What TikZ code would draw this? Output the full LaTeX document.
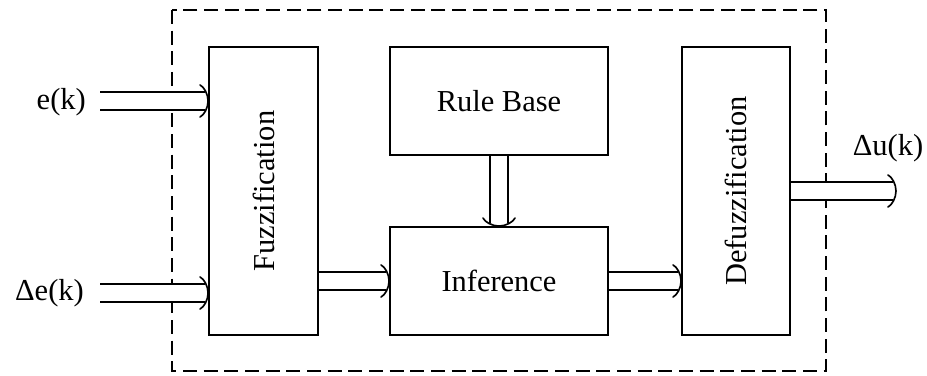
\documentclass[tikz,border=0pt]{standalone}
\usepackage{fontspec}
\setmainfont{Liberation Serif}
\begin{document}
\begin{tikzpicture}[x=0.03cm,y=-0.03cm,
  blk/.style={draw,line width=1.6pt,inner sep=0pt},
  lbl/.style={font=\fontsize{26}{30}\selectfont,inner sep=0pt},
  flow/.style={draw,line width=1.3pt,double distance=0.5cm,shorten >=0.09cm},
  frame/.style={draw,line width=1.6pt,dash pattern=on 0.42cm off 0.2cm},
  head/.pic={\draw[line width=1.4pt,line cap=round]
     (-8,-16) .. controls (-4,-14) and (0,-7) .. (0,0)
              .. controls (0,7) and (-4,14) .. (-8,16);}]
\useasboundingbox (0,0) rectangle (927,376);
% dashed controller boundary
\draw[frame] (172,10) rectangle (826,371);
% blocks
\node[blk,minimum width=109*0.03cm,minimum height=288*0.03cm] (fz) at (263.5,191) {};
\node[lbl,rotate=90] at (fz.center) {Fuzzification};
\node[blk,minimum width=218*0.03cm,minimum height=108*0.03cm] (rb) at (499,101) {};
\node[lbl] at (rb.center) {Rule Base};
\node[blk,minimum width=218*0.03cm,minimum height=108*0.03cm] (inf) at (499,281) {};
\node[lbl] at (inf.center) {Inference};
\node[blk,minimum width=108*0.03cm,minimum height=288*0.03cm] (dfz) at (736,191) {};
\node[lbl,rotate=90] at (dfz.center) {Defuzzification};
% inputs and output
\node[lbl,anchor=east] (ek) at (86,102) {e(k)};
\node[lbl,anchor=east] (dek) at (84,293) {Δe(k)};
\node[lbl] (duk) at (888,148) {Δu(k)};
\coordinate (ein) at (100,101);
\coordinate (dein) at (100,293);
\coordinate (uout) at (896,191);
% signal flow: hollow double arrows
\draw[flow] (ein) -- (ein -| fz.west);
\pic at (ein -| fz.west) {head};
\draw[flow] (dein) -- (dein -| fz.west);
\pic at (dein -| fz.west) {head};
\draw[flow] (fz.east |- inf.west) -- (inf.west);
\pic at (inf.west) {head};
\draw[flow] (rb.south) -- (inf.north);
\pic[rotate=-90] at (inf.north) {head};
\draw[flow] (inf.east) -- (dfz.west |- inf.east);
\pic at (dfz.west |- inf.east) {head};
\draw[flow] (dfz.east |- uout) -- (uout);
\pic at (uout) {head};
\end{tikzpicture}
\end{document}
